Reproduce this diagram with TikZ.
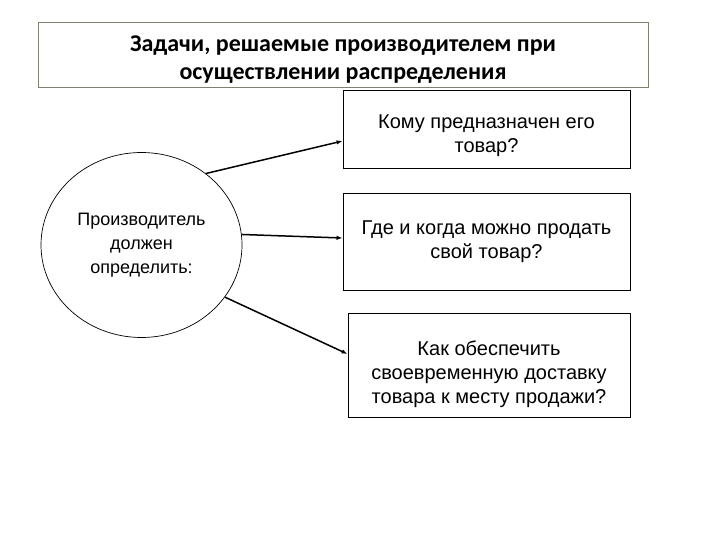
\documentclass[tikz,border=0pt]{standalone}
\usepackage{fontspec}
\setmainfont{Liberation Sans}
\newfontfamily\titlefont{Carlito}
\usetikzlibrary{arrows.meta,shapes.geometric}
\definecolor{framegray}{RGB}{128,128,110}
\tikzset{
  qbox/.style={draw, line width=0.9pt},
  qtext/.style={align=center, font=\fontsize{20}{24}\selectfont},
  pil/.style={line width=1.5pt, -{Latex[length=6pt,width=4.5pt]}}
}

\begin{document}
\begin{tikzpicture}[x=1pt,y=-1pt]
			%%%%% START %%%%%
			\useasboundingbox (0,0) rectangle (720,540);
			
			\node[draw=framegray, line width=0.8pt, minimum width=610pt, minimum height=65pt] (tit) at (343,54.5) {};
			\node[align=center, font=\titlefont\bfseries\fontsize{24}{28}\selectfont] (tittxt)
			  at ([yshift=-5pt]tit.center) {Задачи, решаемые производителем при\\осуществлении распределения};
			
			\node[ellipse, draw, line width=0.7pt, minimum width=201pt, minimum height=185pt,
			  align=center, font=\fontsize{18}{24}\selectfont] (pr) at (141.5,245)
			  {Производитель\\должен\\определить:};
			
			\node[qbox, minimum width=287pt, minimum height=78pt] (k1) at (486.5,129) {};
			\node[qtext] (t1) at ([yshift=-7pt]k1.center) {Кому предназначен его\\товар?};
			
			\node[qbox, minimum width=287pt, minimum height=97pt] (k2) at (486.5,241.5) {};
			\node[qtext] (t2) at (k2.center) {Где и когда можно продать\\свой товар?};
			
			\node[qbox, minimum width=282pt, minimum height=104pt] (k3) at (489,365) {};
			\node[qtext] (t3) at ([yshift=-9pt]k3.center) {Как обеспечить\\своевременную доставку\\товара к месту продажи?};
			
			\draw[pil] (pr.48) -- ([yshift=-12pt]k1.west);
			\draw[pil] (pr.6) -- ([yshift=3.5pt]k2.west);
			\draw[pil] (pr.-32) -- ([yshift=11pt]k3.west);
			
			%%%%% END %%%%%
\end{tikzpicture}
\end{document}
